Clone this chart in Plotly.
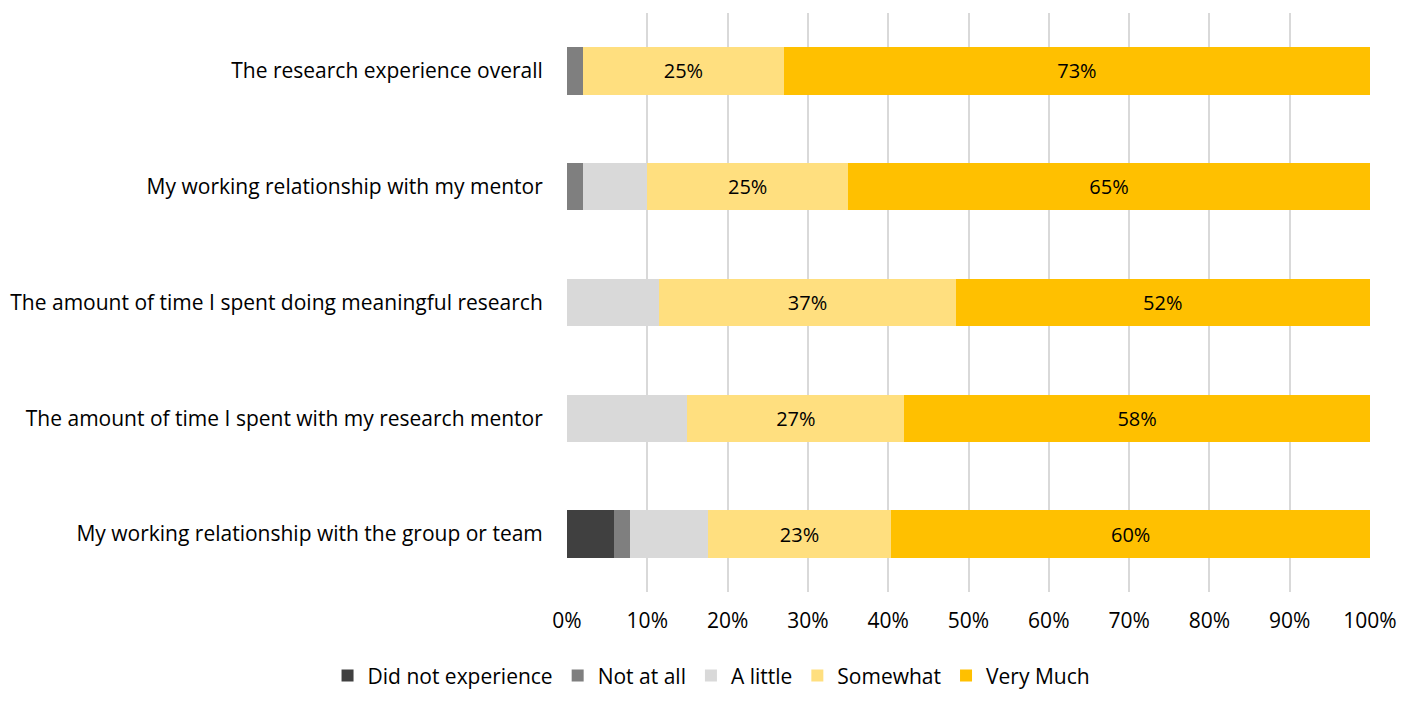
import plotly.graph_objects as go

categories = [
    "My working relationship with the group or team",
    "The amount of time I spent with my research mentor",
    "The amount of time I spent doing meaningful research",
    "My working relationship with my mentor",
    "The research experience overall",
]

did_not_experience = [5.9, 0, 0, 0, 0]
not_at_all = [2.0, 0, 0, 2.0, 2.0]
a_little = [9.6, 15.0, 11.5, 8.0, 0]
somewhat = [22.9, 27.0, 36.9, 25.0, 25.0]
very_much = [59.6, 58.0, 51.6, 65.0, 73.0]

FONT = "Open Sans"
FS = 21

fig = go.Figure()

def add_series(name, values, color, show_text=False, pattern=None):
    text = [f"{round(v)}%" if show_text and v > 0 else "" for v in values]
    marker = dict(color=color, line=dict(width=0))
    if pattern:
        marker["pattern"] = pattern
    fig.add_trace(go.Bar(
        name=name, y=categories, x=values, orientation="h",
        marker=marker, text=text, textposition="inside",
        insidetextanchor="middle", textangle=0,
        textfont=dict(color="black", size=FS - 1, family=FONT),
        width=0.41,
    ))

add_series("Did not experience", did_not_experience, "#404040")
add_series("Not at all", not_at_all, "#7f7f7f")
add_series("A little", a_little, "#d9d9d9")
add_series("Somewhat", somewhat, "#ffffff", show_text=True,
           pattern=dict(shape=".", fgcolor="#ffc000", bgcolor="#ffffff",
                        size=4, solidity=0.95, fillmode="overlay"))
add_series("Very Much", very_much, "#ffc000", show_text=True)

# page body adds an 8px offset, margins compensate for it
fig.update_layout(
    barmode="stack",
    width=1416, height=708,
    paper_bgcolor="white", plot_bgcolor="white",
    margin=dict(l=559, r=54, t=5, b=124),
    font=dict(family=FONT, size=FS, color="black"),
    xaxis=dict(
        range=[0, 100], tickvals=list(range(0, 101, 10)),
        ticktext=[f"{v}%" for v in range(0, 101, 10)],
        showgrid=True, gridcolor="#d9d9d9", gridwidth=2,
        zeroline=False, showline=False, automargin=False,
        ticks="outside", ticklen=10, tickcolor="rgba(0,0,0,0)",
        tickfont=dict(size=FS, family=FONT),
    ),
    yaxis=dict(
        showgrid=False, zeroline=False, showline=False, automargin=False,
        ticks="outside", ticklen=19, tickcolor="rgba(0,0,0,0)",
        tickfont=dict(size=FS, family=FONT),
        range=[-0.5, 4.5],
    ),
    legend=dict(
        orientation="h", x=0.18, xanchor="center", y=-0.145, yanchor="middle",
        font=dict(size=FS, family=FONT), traceorder="normal",
        itemwidth=30, itemsizing="constant",
    ),
    showlegend=True,
    uniformtext=dict(minsize=10, mode="show"),
)

fig.write_html("out.html")
